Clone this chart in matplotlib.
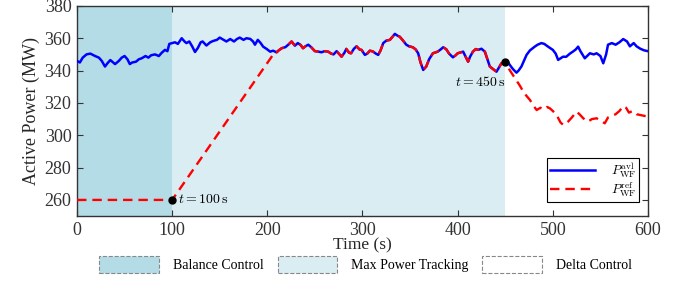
import numpy as np
import matplotlib
matplotlib.use("Agg")
import matplotlib.pyplot as plt
from matplotlib.patches import Patch

plt.rcParams['font.family'] = 'serif'
plt.rcParams['font.serif'] = ['Liberation Serif', 'DejaVu Serif']
plt.rcParams['mathtext.fontset'] = 'cm'

# ---- data ----
blue_t = [0, 3, 6, 10, 14, 19, 23, 26, 29.4, 32, 35, 38, 40, 44, 47, 50, 53, 55.5, 58, 62,
          65, 68, 72, 75, 78, 82, 86, 89, 92.4, 95, 97, 100, 103, 106, 110, 113, 115, 118, 121, 124,
          127, 130, 132, 136, 140, 143, 147, 150, 154, 157, 161, 165, 168, 171, 175, 178, 182, 185, 187, 190,
          193, 195.6, 199, 203, 206, 209.7, 212, 215, 219, 222, 225.5, 229, 232, 235, 237.5, 240, 243, 246, 250, 253,
          257, 260, 264, 267, 269.6, 272.8, 275, 278, 281, 283, 286, 288, 291, 293.8, 297, 299, 302.5, 305, 307.8, 311,
          314, 316.5, 319, 321.8, 325, 328.8, 331, 334, 337, 339, 342, 346, 349, 353, 356, 358.5, 361, 363.8, 367, 370,
          374, 379, 382, 384.8, 388, 391, 395, 398, 400, 403, 405.8, 408, 411, 413, 416, 419, 421.5, 425, 428.6, 431,
          433.8, 437, 440.8, 443, 446, 450, 452, 454.8, 458, 461.8, 464, 467, 470, 472.4, 476, 481, 484, 488, 491, 495,
          500, 503, 505.6, 508, 510.8, 514, 518, 521, 524, 526.6, 529, 533.6, 536, 539, 543, 546, 550, 553, 556, 558,
          562, 566, 570, 574, 578, 581, 585, 588, 592, 596, 600]
blue_v = [346, 345, 348, 350, 350.5, 349, 348, 346, 342.5, 344.5, 346.5, 345, 344, 346, 348, 349, 347, 344, 345, 345.5,
          347, 347.6, 349, 348, 349.5, 350, 349, 351, 352.8, 352, 356.5, 357, 357.5, 356.5, 360, 358, 357, 358, 355, 351.5,
          354, 357.5, 358, 355.5, 357.5, 358.3, 359, 360.4, 359, 358, 359.5, 358, 359.5, 360.4, 359, 360, 359.6, 358, 356, 359,
          357, 354.8, 353.5, 351.7, 352.3, 351.3, 352.5, 353.8, 354.5, 356, 358, 355.4, 357, 355.8, 353.8, 355, 356, 354.5, 352, 351.8,
          351.3, 352, 351.7, 350.5, 350, 352, 350.6, 348.6, 351, 353.4, 351, 350.7, 353.5, 355, 353, 352.8, 349.7, 350.5, 352.3, 351.8,
          350.5, 349.7, 352.5, 357, 358.5, 359, 360.5, 362.7, 361.5, 361, 359, 356, 355, 354.4, 353, 350.7, 345, 340.4, 342.5, 347,
          350.7, 351.7, 353, 354.4, 353.2, 350.5, 348.2, 349.5, 350.7, 351.2, 351.7, 349, 345.5, 348.5, 351.7, 353.3, 352.8, 353.5, 351.7, 347.5,
          342.5, 341, 339.3, 341.5, 344.5, 345, 346, 343.5, 341, 338.7, 340, 342.5, 346.5, 349.7, 352.5, 354.8, 356, 357, 356.5, 354.8,
          352.8, 350.5, 346.6, 347.5, 348.6, 348.5, 350.5, 351.7, 353, 354.8, 352, 347.6, 349, 350.7, 350, 350.7, 349, 344.5, 350, 356,
          357, 356, 357.5, 359.5, 358, 355, 357, 355, 353.5, 352.5, 352]

ramp_t = [0, 100, 208]
ramp_v = [260, 260, 351.5]

delta_t = [455, 460, 465, 470, 476, 480, 483, 487, 490, 494, 497, 500, 504, 508, 511, 516, 520, 525, 528, 532,
           537, 541, 546, 550, 554.6, 558, 562, 566, 570, 574, 577, 580, 584, 588, 592, 596, 600]
delta_v = [340, 335.5, 331, 326, 321.8, 318, 315.6, 317, 316, 317.5, 316.6, 315, 312.5, 308, 306.3, 308.4, 311, 314.6, 313, 310.5,
           308.4, 310, 310.5, 309, 307.4, 311, 312, 313, 315, 318, 317, 314, 315, 313, 312.5, 312, 311.5]

event_t = [100, 450]
event_v = [260, 345]

modes = ['Balance Control', 'Max Power Tracking', 'Delta Control']
mode_bounds = [(0, 100), (100, 450), (450, 600)]
mode_colors = ['#b4dce6', '#daedf3', 'white']

blue_t = np.array(blue_t)
blue_v = np.array(blue_v)
mask = (blue_t > 208) & (blue_t <= 450)
red_t = np.concatenate([ramp_t, blue_t[mask], delta_t])
red_v = np.concatenate([ramp_v, blue_v[mask], delta_v])

# ---- figure ----
fig = plt.figure(figsize=(6.9, 2.81), dpi=100)
ax = fig.add_axes([0.1116, 0.231, 0.8275, 0.748])

for (a, b), c in zip(mode_bounds, mode_colors):
    ax.axvspan(a, b, color=c, lw=0, zorder=0)

ax.plot(blue_t, blue_v, color=(0, 0, 1), lw=1.8, label=r'$P_{\rm WF}^{\rm avl}$', zorder=3)
ax.plot(red_t, red_v, color=(1, 0, 0), lw=1.7, ls=(0, (4, 2.5)), label=r'$P_{\rm WF}^{\rm ref}$', zorder=4)
ax.plot(event_t, event_v, 'o', color='black', ms=5, zorder=5)

ax.text(106, 260, r'$t=100\,\mathrm{s}$', fontsize=10, va='center', ha='left', zorder=6)
ax.text(424, 333, r'$t=450\,\mathrm{s}$', fontsize=10, va='center', ha='center', zorder=6)

ax.set_xlim(0, 600)
ax.set_ylim(250, 380)
ax.set_xticks([0, 100, 200, 300, 400, 500, 600])
ax.set_yticks([260, 280, 300, 320, 340, 360, 380])
ax.tick_params(direction='in', top=True, right=True, length=4, width=0.8,
               labelsize=13, colors='#333333', pad=4)
for s in ax.spines.values():
    s.set_color('#333333')
    s.set_linewidth(1.0)
ax.set_xlabel('Time (s)', fontsize=12.5, color='#262626', labelpad=-1)
ax.set_ylabel('Active Power (MW)', fontsize=13, color='#262626', labelpad=3)

leg = ax.legend(loc='lower right', bbox_to_anchor=(0.985, 0.065), fontsize=9.5, fancybox=False,
                edgecolor='black', framealpha=1, handlelength=3.4, borderpad=0.25,
                labelspacing=0.0, handletextpad=1.2, borderaxespad=0.0)
leg.get_frame().set_linewidth(0.8)

handles = [Patch(facecolor=c, edgecolor='#888888', linestyle='--', linewidth=0.8) for c in mode_colors]
fig.legend(handles, modes, loc='lower center', bbox_to_anchor=(0.53, -0.015), ncol=3, frameon=False,
           fontsize=10, handlelength=4.3, handleheight=1.5, handletextpad=1.0, columnspacing=1.0)

fig.savefig('out.png', dpi=100)
